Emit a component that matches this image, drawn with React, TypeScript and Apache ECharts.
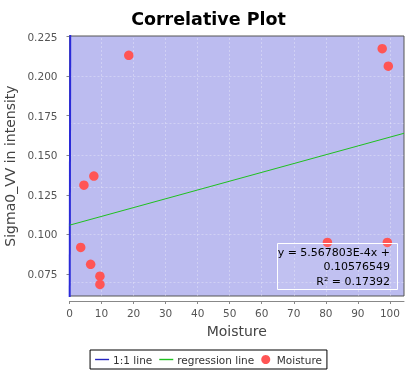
import React, { useEffect, useRef } from "react";
import * as echarts from "echarts";

const TITLE = "Correlative Plot";
const X_NAME = "Moisture";
const Y_NAME = "Sigma0_VV in intensity";

const moistureX = [18.5, 97.6, 99.5, 7.6, 4.5, 3.5, 6.6, 9.5, 9.5, 80.5, 99.2];
const sigmaY = [0.2132, 0.2174, 0.2063, 0.1368, 0.1311, 0.0917, 0.081, 0.0735, 0.0683, 0.0949, 0.0949];

const REG_SLOPE = 5.567803e-4;
const REG_INTERCEPT = 0.10576549;
const R2 = 0.17392;

const X_MIN = 0;
const X_MAX = 104.4;
const Y_MIN = 0.061;
const Y_MAX = 0.2254;

const xTicks = [0, 10, 20, 30, 40, 50, 60, 70, 80, 90, 100];
const yTicks = [0.075, 0.1, 0.125, 0.15, 0.175, 0.2, 0.225];

const oneToOne = [
  [0, 0],
  [0.3, 0.3],
];

const LINE_ICON = "path://M0,0 L16,0 L16,1.6 L0,1.6 Z";

export default function App() {
  const ref = useRef<HTMLDivElement>(null);
  useEffect(() => {
    if (!ref.current) return;
    const chart = echarts.init(ref.current, null, { renderer: "svg" });
    const font = "DejaVu Sans";
    const regData = [X_MIN, X_MAX].map((x) => [x, REG_SLOPE * x + REG_INTERCEPT]);
    const gridLine = { color: "rgba(255,255,255,0.3)", type: [2, 2] as any, width: 1 };
    const blue = "#2424c0";
    const green = "#1fc01f";
    chart.setOption({
      animation: false,
      title: {
        text: TITLE,
        left: "center",
        top: 4,
        textStyle: { fontFamily: font, fontSize: 17.5, fontWeight: "bold", color: "#000", lineHeight: 20 },
      },
      grid: {
        left: 69.5,
        right: 13,
        top: 36,
        bottom: 75,
        show: true,
        backgroundColor: "#bcbcf0",
        borderColor: "#555",
        borderWidth: 1,
        containLabel: false,
        outerBoundsMode: "none",
      },
      legend: {
        bottom: 2,
        left: "center",
        backgroundColor: "#fff",
        borderColor: "#000",
        borderWidth: 1,
        borderRadius: 0,
        padding: [4, 5],
        itemGap: 7,
        itemWidth: 14,
        itemHeight: 9,
        textStyle: { fontFamily: font, fontSize: 10.5, color: "#333", padding: [0, 0, 0, -1] },
        data: [
          {
            name: "1:1 line",
            icon: LINE_ICON,
            itemStyle: { color: blue, borderWidth: 0 },
            lineStyle: { color: blue, width: 0 },
          },
          {
            name: "regression line",
            icon: LINE_ICON,
            itemStyle: { color: green, borderWidth: 0 },
            lineStyle: { color: green, width: 0 },
          },
          { name: "Moisture", icon: "circle" },
        ],
      },
      xAxis: {
        type: "value",
        min: X_MIN,
        max: X_MAX,
        offset: 5,
        name: X_NAME,
        nameLocation: "middle",
        nameGap: 23,
        nameTextStyle: { fontFamily: font, fontSize: 14, color: "#444" },
        axisLine: { show: true, lineStyle: { color: "#888" } },
        axisTick: { show: true, length: 3, customValues: xTicks, lineStyle: { color: "#888" } },
        axisLabel: { customValues: xTicks, margin: 6, fontFamily: font, fontSize: 10.5, color: "#555" },
        splitLine: { show: false },
      },
      yAxis: {
        type: "value",
        min: Y_MIN,
        max: Y_MAX,
        offset: 4,
        name: Y_NAME,
        nameLocation: "middle",
        nameGap: 44,
        nameTextStyle: { fontFamily: font, fontSize: 14, color: "#444" },
        axisLine: { show: true, lineStyle: { color: "#888" } },
        axisTick: { show: true, length: 3, customValues: yTicks, lineStyle: { color: "#888" } },
        axisLabel: {
          customValues: yTicks,
          margin: 8,
          fontFamily: font,
          fontSize: 10.5,
          color: "#555",
          formatter: (v: number) => v.toFixed(3),
        },
        splitLine: { show: false },
      },
      series: [
        {
          name: "1:1 line",
          type: "line",
          data: oneToOne,
          symbol: "none",
          lineStyle: { color: "#2a2ad8", width: 2 },
          itemStyle: { color: blue },
          z: 3,
          markLine: {
            silent: true,
            symbol: "none",
            label: { show: false },
            lineStyle: gridLine,
            data: [
              ...xTicks.filter((v) => v > X_MIN).map((v) => ({ xAxis: v })),
              ...yTicks.filter((v) => v < Y_MAX).map((v) => ({ yAxis: v })),
            ],
            z: 1,
          },
        },
        {
          name: "regression line",
          type: "line",
          data: regData,
          symbol: "none",
          lineStyle: { color: green, width: 1 },
          itemStyle: { color: green },
          z: 3,
        },
        {
          name: "Moisture",
          type: "scatter",
          data: moistureX.map((x, i) => [x, sigmaY[i]]),
          symbol: "circle",
          symbolSize: 9.5,
          itemStyle: { color: "#ff5555", opacity: 1 },
          z: 4,
        },
      ],
      graphic: [
        {
          type: "rect",
          shape: { x: 277.5, y: 243.5, width: 120, height: 46 },
          style: { fill: "rgba(255,255,255,0.08)", stroke: "#fff", lineWidth: 1 },
          z: 10,
        },
        {
          type: "text",
          style: {
            x: 390,
            y: 245,
            text: "y = " + "5.567803E-4" + "x +\n" + REG_INTERCEPT.toString() + "\nR² = " + R2.toString(),
            align: "right",
            verticalAlign: "top",
            fontFamily: font,
            fontSize: 11,
            lineHeight: 14.5,
            fill: "#000",
          },
          z: 11,
        },
      ],
    });
    return () => chart.dispose();
  }, []);
  return <div ref={ref} style={{ position: "fixed", left: 0, top: 0, width: 417, height: 371 }} />;
}
